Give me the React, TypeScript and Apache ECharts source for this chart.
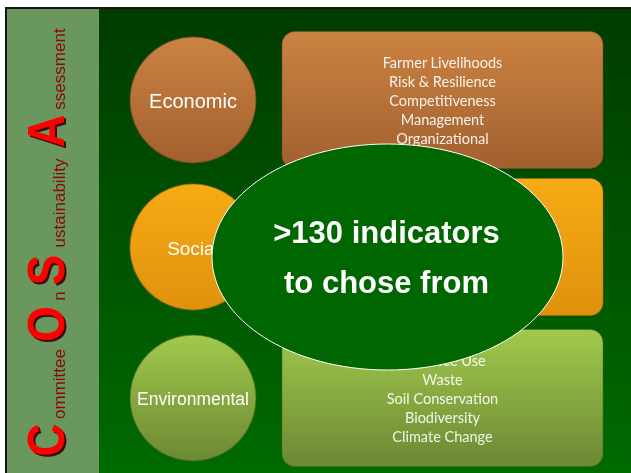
import React, { useEffect, useRef } from "react";
import * as echarts from "echarts";

// ---- data ----
const pillars = ["Economic", "Social", "Environmental"];
const economicIndicators = ["Farmer Livelihoods", "Risk & Resilience", "Competitiveness", "Management", "Organizational"];
const socialIndicators: string[] = [];
const environmentalIndicators = ["Resource Use", "Waste", "Soil Conservation", "Biodiversity", "Climate Change"];
const calloutLines = [">130 indicators", "to chose from"];
const titleParts = ["C", "ommittee", "O", "n", "S", "ustainability", "A", "ssessment"];
const titleIsCapital = [true, false, true, false, true, false, true, false];

// ---- layout / styles ----
const W = 631;
const H = 473;
const titleCenters = [440, 384, 324, 296, 270, 203, 131, 69];
const rowCenters = [100, 247, 398];
const circleR = 63;
const circleCx = 193;
const labelSizes = [20, 19, 17.5];
const boxX = 282;
const boxW = 321;
const boxH = 137;
const palettes = [
  { top: "#cb8342", bottom: "#a2602f", edge: "#7a4a22" },
  { top: "#f7ab14", bottom: "#df910e", edge: "#a86a08" },
  { top: "#a1c94c", bottom: "#6c8934", edge: "#4f6a22" },
];

function grad(top: string, bottom: string) {
  return new echarts.graphic.LinearGradient(0, 0, 0, 1, [
    { offset: 0, color: top },
    { offset: 1, color: bottom },
  ]);
}

function buildGraphic() {
  const els: any[] = [];
  els.push({ type: "rect", shape: { x: 0, y: 0, width: W, height: H }, style: { fill: "#ffffff" } });
  els.push({ type: "rect", shape: { x: 5, y: 7, width: W - 5, height: H - 7 }, style: { fill: "#151515" } });
  els.push({ type: "rect", shape: { x: 7, y: 9, width: 92, height: H - 9 }, style: { fill: "#6a975e" } });
  els.push({
    type: "rect",
    shape: { x: 99, y: 9, width: W - 99, height: H - 9 },
    style: { fill: grad("#003c00", "#006a00") },
  });

  // vertical title
  titleParts.forEach((t, i) => {
    const big = titleIsCapital[i];
    const y = titleCenters[i];
    if (big) {
      els.push({
        type: "text",
        x: 48,
        y: y + 2,
        rotation: Math.PI / 2,
        scaleX: 0.88,
        style: {
          text: t,
          fill: "#3a0d0d",
          font: "bold 52px 'Liberation Sans', Arial, sans-serif",
          align: "center",
          verticalAlign: "middle",
        },
      });
      els.push({
        type: "text",
        x: 46,
        y: y,
        rotation: Math.PI / 2,
        scaleX: 0.88,
        style: {
          text: t,
          fill: "#ff0000",
          font: "bold 52px 'Liberation Sans', Arial, sans-serif",
          align: "center",
          verticalAlign: "middle",
        },
      });
    } else {
      els.push({
        type: "text",
        x: 59,
        y: y,
        rotation: Math.PI / 2,
        style: {
          text: t,
          fill: "#8b0808",
          font: "17px 'Liberation Sans', Arial, sans-serif",
          align: "center",
          verticalAlign: "middle",
        },
      });
    }
  });

  const lists = [economicIndicators, socialIndicators, environmentalIndicators];
  pillars.forEach((p, i) => {
    const cy = rowCenters[i];
    const pal = palettes[i];
    // box
    els.push({
      type: "rect",
      shape: { x: boxX, y: cy - boxH / 2, width: boxW, height: boxH, r: 13 },
      style: { fill: grad(pal.top, pal.bottom), stroke: pal.edge, lineWidth: 1, strokeOpacity: 0.5 } as any,
    });
    const lines = lists[i];
    const lh = 19;
    lines.forEach((ln, j) => {
      els.push({
        type: "text",
        x: boxX + boxW / 2,
        y: cy - ((lines.length - 1) * lh) / 2 + j * lh,
        style: {
          text: ln,
          fill: "rgba(255,255,255,0.9)",
          font: "14.5px Lato, 'Open Sans', sans-serif",
          align: "center",
          verticalAlign: "middle",
        },
      });
    });
    // circle
    els.push({
      type: "circle",
      shape: { cx: circleCx, cy, r: circleR },
      style: { fill: grad(pal.top, pal.bottom), stroke: pal.edge, lineWidth: 1.2, strokeOpacity: 0.6 } as any,
    });
    els.push({
      type: "text",
      x: circleCx,
      y: cy + 1,
      style: {
        text: p,
        fill: "#ffffff",
        font: `${labelSizes[i]}px 'Liberation Sans', Arial, sans-serif`,
        align: "center",
        verticalAlign: "middle",
      },
    });
  });

  // callout ellipse
  els.push({
    type: "ellipse",
    shape: { cx: 387.5, cy: 257, rx: 175.5, ry: 113 },
    style: { fill: "#006600", stroke: "#ffffff", lineWidth: 1 },
  });
  calloutLines.forEach((t, i) => {
    els.push({
      type: "text",
      x: 386.5,
      y: 232 + i * 50,
      style: {
        text: t,
        fill: "#ffffff",
        font: "bold 31px 'Liberation Sans', Arial, sans-serif",
        align: "center",
        verticalAlign: "middle",
      },
    });
  });
  return els;
}

export default function App() {
  const ref = useRef<HTMLDivElement>(null);
  useEffect(() => {
    if (!ref.current) return;
    const chart = echarts.init(ref.current, undefined, { renderer: "svg" });
    chart.setOption({ animation: false, graphic: { elements: buildGraphic() } });
    return () => chart.dispose();
  }, []);
  return (
    <div
      ref={ref}
      style={{ position: "fixed", left: 0, top: 0, width: W, height: H }}
    />
  );
}
